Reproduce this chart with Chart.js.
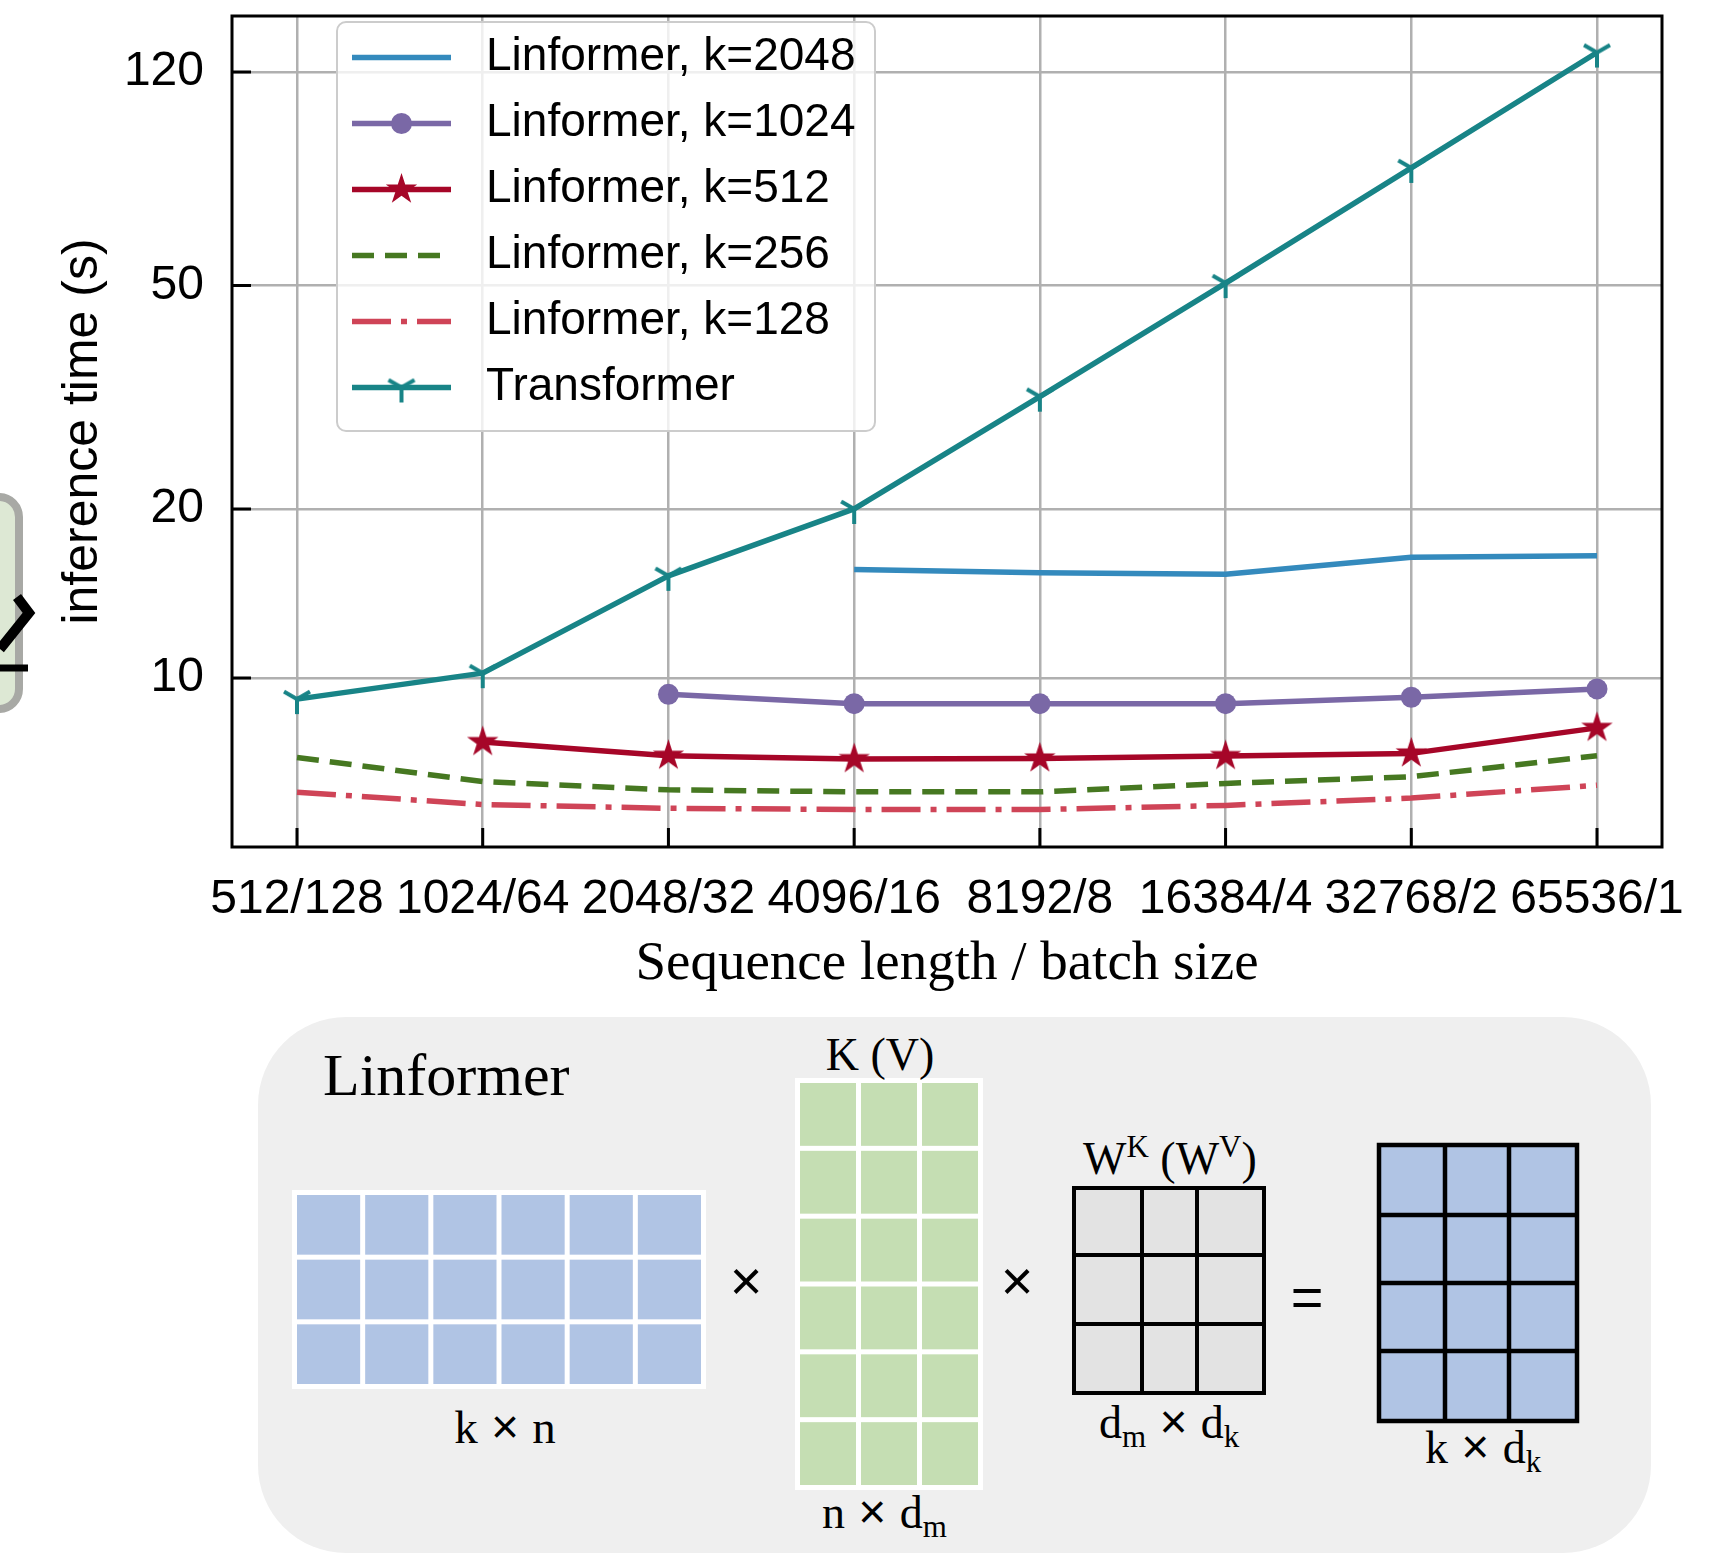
<!DOCTYPE html>
<html lang="en">
<head>
<meta charset="UTF-8">
<title>Linformer vs Transformer inference time</title>
<script src="https://cdn.jsdelivr.net/npm/chart.js@4/dist/chart.umd.min.js"></script>
<style>
  html, body { margin: 0; padding: 0; background: #fff; }
  #wrap { position: relative; width: 1711px; height: 1556px; overflow: hidden; background: #fff; }
  #diagram, #chart { position: absolute; left: 0; top: 0; }
</style>
</head>
<body>
<div id="wrap">
  <svg id="diagram" width="1711" height="1556" xmlns="http://www.w3.org/2000/svg"></svg>
  <canvas id="chart" width="1711" height="1010"></canvas>
</div>
<script>
// ---- data (inference time in seconds) ----
const categories = ['512/128', '1024/64', '2048/32', '4096/16', '8192/8', '16384/4', '32768/2', '65536/1'];
const k2048 = [null, null, null, 15.6, 15.4, 15.3, 16.4, 16.5];
const k1024 = [null, null, 9.35, 9.0, 9.0, 9.0, 9.24, 9.56];
const k512 = [null, 7.69, 7.27, 7.17, 7.19, 7.26, 7.34, 8.15];
const k256 = [7.22, 6.54, 6.32, 6.27, 6.27, 6.49, 6.67, 7.27];
const k128 = [6.26, 5.95, 5.86, 5.83, 5.83, 5.93, 6.11, 6.44];
const transformer = [9.17, 10.2, 15.2, 20.0, 31.7, 50.5, 81, 130];
const yTicks = [10, 20, 50, 120];

const SANS = "'Liberation Sans', Arial, sans-serif";
const SERIF = "'Liberation Serif', 'Times New Roman', serif";

Chart.defaults.color = '#000';

// marker images (matplotlib-style '*' and '1')
function starMarker(r, color) {
  const c = document.createElement('canvas');
  const s = Math.ceil(r * 2 + 4);
  c.width = c.height = s;
  const g = c.getContext('2d');
  g.fillStyle = color;
  g.beginPath();
  for (let i = 0; i < 10; i++) {
    const rad = i % 2 === 0 ? r : r * 0.382;
    const a = -Math.PI / 2 + i * Math.PI / 5;
    g.lineTo(s / 2 + rad * Math.cos(a), s / 2 + rad * Math.sin(a));
  }
  g.closePath();
  g.fill();
  return c;
}

function triDownMarker(len, lw, color) {
  const c = document.createElement('canvas');
  const s = Math.ceil(len * 2 + lw * 2);
  c.width = c.height = s;
  const g = c.getContext('2d');
  const m = s / 2;
  g.strokeStyle = color;
  g.lineWidth = lw;
  g.beginPath();
  g.moveTo(m, m); g.lineTo(m, m + len);
  g.moveTo(m, m); g.lineTo(m - len * 0.866, m - len * 0.5);
  g.moveTo(m, m); g.lineTo(m + len * 0.866, m - len * 0.5);
  g.stroke();
  return c;
}

const starImg = starMarker(16.5, '#A60628');
const triImg = triDownMarker(15, 4, '#188487');

const toPoints = arr => arr.map((v, i) => ({ x: i, y: v }));

function lineSet(label, values, color, extra) {
  return Object.assign({
    label: label,
    data: toPoints(values),
    borderColor: color,
    backgroundColor: color,
    borderWidth: 5.5,
    borderJoinStyle: 'round',
    borderCapStyle: 'butt',
    pointRadius: 0,
    pointBorderWidth: 0,
    pointBackgroundColor: color,
    tension: 0,
    fill: false
  }, extra || {});
}

const datasets = [
  lineSet('Linformer, k=2048', k2048, '#348ABD'),
  lineSet('Linformer, k=1024', k1024, '#7A68A6', { pointStyle: 'circle', pointRadius: 10.5 }),
  lineSet('Linformer, k=512', k512, '#A60628', { pointStyle: starImg, pointRadius: 16 }),
  lineSet('Linformer, k=256', k256, '#467821', { borderDash: [22, 11] }),
  lineSet('Linformer, k=128', k128, '#CF4457', { borderDash: [39, 10, 6, 10] }),
  lineSet('Transformer', transformer, '#188487', { pointStyle: triImg, pointRadius: 15 })
];

// frame + inward tick marks
const framePlugin = {
  id: 'frame',
  afterDatasetsDraw(chart) {
    const { ctx, chartArea: { left, top, right, bottom }, scales: { x, y } } = chart;
    ctx.save();
    ctx.strokeStyle = '#000';
    ctx.lineWidth = 3;
    ctx.beginPath();
    x.ticks.forEach(t => {
      const px = x.getPixelForValue(t.value);
      ctx.moveTo(px, bottom);
      ctx.lineTo(px, bottom - 19);
    });
    y.ticks.forEach(t => {
      const py = y.getPixelForValue(t.value);
      ctx.moveTo(left, py);
      ctx.lineTo(left + 19, py);
    });
    ctx.stroke();
    ctx.strokeRect(left, top, right - left, bottom - top);
    ctx.restore();
  }
};

// legend box inside the plot, upper left
const legendPlugin = {
  id: 'boxLegend',
  afterDraw(chart) {
    const ctx = chart.ctx;
    ctx.save();
    ctx.beginPath();
    ctx.roundRect(337, 22, 538, 409, 9);
    ctx.fillStyle = 'rgba(255,255,255,0.8)';
    ctx.fill();
    ctx.strokeStyle = '#cccccc';
    ctx.lineWidth = 2;
    ctx.stroke();

    chart.data.datasets.forEach((ds, i) => {
      const yy = 57.5 + i * 66;
      ctx.strokeStyle = ds.borderColor;
      ctx.lineWidth = ds.borderWidth;
      ctx.lineCap = 'butt';
      ctx.setLineDash(ds.borderDash || []);
      ctx.beginPath();
      ctx.moveTo(352, yy);
      ctx.lineTo(451, yy);
      ctx.stroke();
      ctx.setLineDash([]);
      const cx = 401.5;
      if (ds.pointStyle === 'circle') {
        ctx.fillStyle = ds.borderColor;
        ctx.beginPath();
        ctx.arc(cx, yy, ds.pointRadius, 0, Math.PI * 2);
        ctx.fill();
      } else if (ds.pointStyle && typeof ds.pointStyle === 'object') {
        const im = ds.pointStyle;
        ctx.drawImage(im, cx - im.width / 2, yy - im.height / 2);
      }
      ctx.fillStyle = '#000';
      ctx.font = '46px ' + SANS;
      ctx.textBaseline = 'middle';
      ctx.textAlign = 'left';
      ctx.fillText(ds.label, 486, yy);
    });
    ctx.restore();
  }
};

new Chart(document.getElementById('chart'), {
  type: 'line',
  data: { datasets: datasets },
  options: {
    responsive: false,
    animation: false,
    events: [],
    layout: { padding: { left: 0, right: 49, top: 13, bottom: 0 } },
    plugins: { legend: { display: false }, tooltip: { enabled: false } },
    scales: {
      x: {
        type: 'linear',
        bounds: 'data',
        min: -0.35,
        max: 7.35,
        afterBuildTicks: s => { s.ticks = categories.map((c, i) => ({ value: i })); },
        afterFit: s => { s.height = 163; s.paddingLeft = 0; s.paddingRight = 0; },
        ticks: {
          callback: v => categories[Math.round(v)],
          font: { family: SANS, size: 48 },
          color: '#000',
          padding: 24,
          maxRotation: 0,
          autoSkip: false
        },
        grid: { color: '#b0b0b0', lineWidth: 2.5, drawTicks: false },
        border: { display: false },
        title: {
          display: true,
          text: 'Sequence length / batch size',
          font: { family: SERIF, size: 55 },
          color: '#000',
          padding: { top: 0, bottom: 12 }
        }
      },
      y: {
        type: 'logarithmic',
        bounds: 'data',
        min: 5,
        max: 151,
        afterBuildTicks: s => { s.ticks = yTicks.map(v => ({ value: v })); },
        afterFit: s => { s.width = 232; s.paddingTop = 0; s.paddingBottom = 0; },
        ticks: {
          callback: v => String(v),
          font: { family: SANS, size: 48 },
          color: '#000',
          padding: 28
        },
        grid: { color: '#b0b0b0', lineWidth: 2.5, drawTicks: false },
        border: { display: false },
        title: {
          display: true,
          text: 'inference time (s)',
          font: { family: SANS, size: 50 },
          color: '#000',
          padding: { top: 53, bottom: 0 }
        }
      }
    }
  },
  plugins: [framePlugin, legendPlugin]
});

// ---- Linformer projection sketch below the chart ----
const svg = document.getElementById('diagram');
function el(tag, attrs, parent) {
  const n = document.createElementNS('http://www.w3.org/2000/svg', tag);
  for (const k in attrs) n.setAttribute(k, attrs[k]);
  (parent || svg).appendChild(n);
  return n;
}
// parts: plain strings, {t, size, dy} for sub/superscripts, {t, sans:true} for a sans glyph
function label(x, y, parts, size, family, anchor) {
  const t = el('text', { x: x, y: y, 'font-family': family || SERIF, 'font-size': size, fill: '#000', 'text-anchor': anchor || 'start' });
  parts.forEach(p => {
    const s = el('tspan', {}, t);
    if (typeof p === 'string') { s.textContent = p; return; }
    s.textContent = p.t;
    if (p.sans) { s.setAttribute('font-family', SANS); s.setAttribute('font-size', p.size || size); return; }
    s.setAttribute('font-size', p.size);
    s.setAttribute('dy', p.dy);
    const back = el('tspan', { dy: -p.dy, 'font-size': p.size }, t);
    back.textContent = '\u200b';
  });
  return t;
}
function gapGrid(x, y, w, h, cols, rows, gap, fill) {
  el('rect', { x: x, y: y, width: w, height: h, fill: '#fff' });
  const cw = (w - gap * (cols + 1)) / cols, ch = (h - gap * (rows + 1)) / rows;
  for (let r = 0; r < rows; r++)
    for (let c = 0; c < cols; c++)
      el('rect', { x: x + gap + c * (cw + gap), y: y + gap + r * (ch + gap), width: cw, height: ch, fill: fill });
}
function lineGrid(x, y, w, h, xs, ys, fill, lw) {
  el('rect', { x: x, y: y, width: w, height: h, fill: fill, stroke: '#000', 'stroke-width': lw });
  xs.forEach(px => el('line', { x1: px, y1: y, x2: px, y2: y + h, stroke: '#000', 'stroke-width': lw }));
  ys.forEach(py => el('line', { x1: x, y1: py, x2: x + w, y2: py, stroke: '#000', 'stroke-width': lw }));
}
const TIMES = { t: ' \u00d7 ', sans: true, size: 48 };

// clipped piece of a neighbouring figure at the left edge
el('rect', { x: -30, y: 497, width: 49, height: 212, rx: 20, fill: '#dde8d4', stroke: '#a8a9a5', 'stroke-width': 8 });
el('polyline', { points: '17,597 29,613 0,649', fill: 'none', stroke: '#000', 'stroke-width': 10 });
el('line', { x1: 0, y1: 668, x2: 28, y2: 668, stroke: '#000', 'stroke-width': 7 });

el('rect', { x: 258, y: 1017, width: 1393, height: 536, rx: 88, fill: '#efefef' });
label(323, 1095, ['Linformer'], 60);

gapGrid(292, 1190, 414, 199, 6, 3, 5, '#b0c4e4');
label(505, 1443, ['k', TIMES, 'n'], 47, SERIF, 'middle');
label(746, 1300, ['\u00d7'], 56, SANS, 'middle');

gapGrid(795, 1078, 188, 412, 3, 6, 5, '#c5deb3');
label(880, 1070, ['K (V)'], 46, SERIF, 'middle');
label(822, 1528, ['n', TIMES, 'd', { t: 'm', size: 31, dy: 9 }], 46);
label(1017, 1300, ['\u00d7'], 56, SANS, 'middle');

lineGrid(1074, 1188, 190, 205, [1142, 1197], [1255, 1324], '#e3e3e3', 4);
label(1083, 1174, ['W', { t: 'K', size: 31, dy: -17 }, ' (W', { t: 'V', size: 31, dy: -17 }, ')'], 46);
label(1099, 1438, ['d', { t: 'm', size: 31, dy: 9 }, TIMES, 'd', { t: 'k', size: 31, dy: 9 }], 46);
label(1307, 1316, ['='], 56, SANS, 'middle');

lineGrid(1379, 1145, 198, 276, [1445, 1509], [1215, 1283, 1351], '#b0c4e4', 4.5);
label(1425, 1463, ['k', TIMES, 'd', { t: 'k', size: 31, dy: 9 }], 46);
</script>
</body>
</html>
